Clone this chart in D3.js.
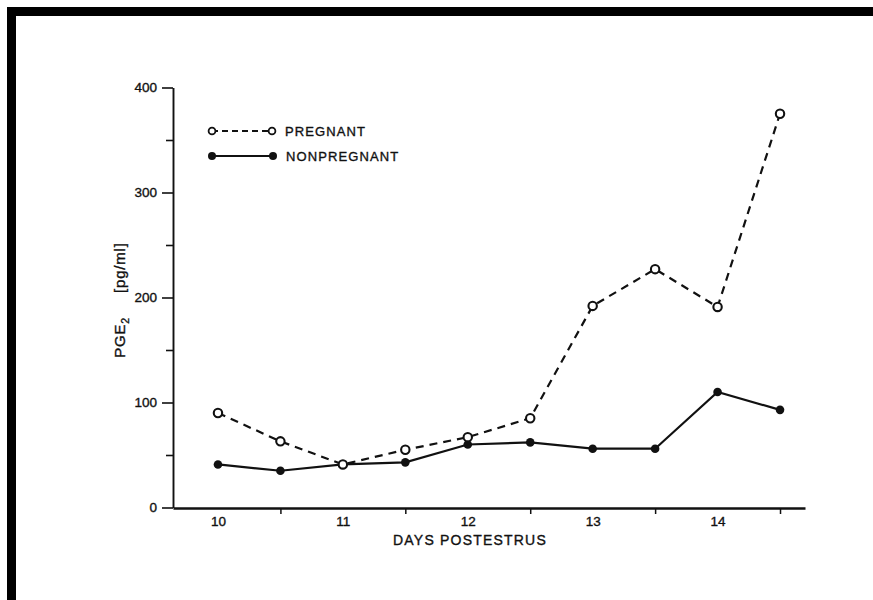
<!DOCTYPE html>
<html>
<head>
<meta charset="utf-8">
<script src="https://cdn.jsdelivr.net/npm/d3@7"></script>
<style>
  html, body { margin: 0; padding: 0; background: #fff; }
  svg { display: block; }
  text { font-family: "Liberation Sans", Arial, sans-serif; fill: #111; stroke: #111; stroke-width: 0.35px; }
</style>
</head>
<body>
<svg id="chart" width="873" height="600"></svg>
<script>
// ---- data ----
const days = [10, 10.5, 11, 11.5, 12, 12.5, 13, 13.5, 14, 14.5];
const pregnant = [90, 63, 41, 55, 67, 85, 192, 227, 191, 375];
const nonpregnant = [41, 35, 41, 43, 60, 62, 56, 56, 110, 93];
const dayLabels = [10, 11, 12, 13, 14];
const halfDayTicks = [10.5, 11.5, 12.5, 13.5, 14.5];
const yMajor = [0, 100, 200, 300, 400];
const yMinor = [50, 150, 250, 350];

const svg = d3.select("#chart");

// scanned-page black frame
svg.append("rect").attr("x", 0).attr("y", 0).attr("width", 873).attr("height", 600).attr("fill", "#fff");
svg.append("rect").attr("x", 7).attr("y", 7).attr("width", 866).attr("height", 9).attr("fill", "#000");
svg.append("rect").attr("x", 7).attr("y", 7).attr("width", 9).attr("height", 593).attr("fill", "#000");

const x = d3.scaleLinear().domain([9.64, 14.7]).range([173, 805]);
const y = d3.scaleLinear().domain([0, 400]).range([507.5, 87.5]);

// x axis: line + half-day ticks
const gx = svg.append("g").attr("transform", "translate(0,508)");
gx.call(d3.axisBottom(x).tickValues(halfDayTicks).tickSize(6).tickSizeOuter(0).tickFormat(""));
gx.select(".domain").attr("stroke", "#111").attr("stroke-width", 2.6);
gx.selectAll(".tick line").attr("stroke", "#111").attr("stroke-width", 1.5);

// x labels at whole days
const gxl = svg.append("g").attr("transform", "translate(0,508)");
gxl.call(d3.axisBottom(x).tickValues(dayLabels).tickSize(0).tickPadding(8).tickFormat(d3.format("d")));
gxl.select(".domain").remove();
gxl.selectAll("text").attr("font-size", 13.5).attr("fill", "#111")
  .style("font-family", "Liberation Sans, Arial, sans-serif");

// y axis
const gy = svg.append("g").attr("transform", "translate(173,0)");
gy.call(d3.axisLeft(y).tickValues(yMajor.concat(yMinor)).tickSize(10).tickSizeOuter(0)
  .tickFormat(d => yMajor.includes(d) ? d3.format("d")(d) : ""));
gy.select(".domain").attr("stroke", "#111").attr("stroke-width", 1.9);
gy.selectAll(".tick line").attr("stroke", "#111").attr("stroke-width", 1.6)
  .attr("x2", d => yMajor.includes(d) ? -11 : -7);
gy.selectAll(".tick text").attr("x", -16).attr("font-size", 13.5).attr("fill", "#111")
  .style("font-family", "Liberation Sans, Arial, sans-serif");

// axis titles
svg.append("text").attr("x", 470).attr("y", 545).attr("text-anchor", "middle")
  .attr("font-size", 14).attr("letter-spacing", 1.2).text("DAYS POSTESTRUS");

const yt = svg.append("text").attr("transform", "translate(125,300) rotate(-90)")
  .attr("text-anchor", "middle").attr("font-size", 15).attr("letter-spacing", 0.8);
yt.append("tspan").text("PGE");
yt.append("tspan").attr("font-size", 10.5).attr("dy", 4).text("2");
yt.append("tspan").attr("dy", -4).text("\u2003\u2002[pg/ml]");

// lines
const lineGen = vals => d3.line().x((d, i) => x(days[i])).y(d => y(d))(vals);

svg.append("path").attr("d", lineGen(nonpregnant)).attr("fill", "none")
  .attr("stroke", "#111").attr("stroke-width", 2.2);
svg.append("path").attr("d", lineGen(pregnant)).attr("fill", "none")
  .attr("stroke", "#111").attr("stroke-width", 2.2).attr("stroke-dasharray", "8,6");

svg.append("g").selectAll("circle").data(nonpregnant).join("circle")
  .attr("cx", (d, i) => x(days[i])).attr("cy", d => y(d)).attr("r", 4.3)
  .attr("fill", "#111");
svg.append("g").selectAll("circle").data(pregnant).join("circle")
  .attr("cx", (d, i) => x(days[i])).attr("cy", d => y(d)).attr("r", 4.2)
  .attr("fill", "#fff").attr("stroke", "#111").attr("stroke-width", 2.1);

// legend
const lg = svg.append("g");
lg.append("line").attr("x1", 212).attr("x2", 272).attr("y1", 131).attr("y2", 131)
  .attr("stroke", "#111").attr("stroke-width", 2).attr("stroke-dasharray", "6,4");
lg.append("circle").attr("cx", 212).attr("cy", 131).attr("r", 3.4).attr("fill", "#fff").attr("stroke", "#111").attr("stroke-width", 1.8);
lg.append("circle").attr("cx", 272).attr("cy", 131).attr("r", 3.4).attr("fill", "#fff").attr("stroke", "#111").attr("stroke-width", 1.8);
lg.append("text").attr("x", 285).attr("y", 136).attr("font-size", 13).attr("letter-spacing", 1.1).text("PREGNANT");

lg.append("line").attr("x1", 212).attr("x2", 273).attr("y1", 156).attr("y2", 156)
  .attr("stroke", "#111").attr("stroke-width", 1.8);
lg.append("circle").attr("cx", 212).attr("cy", 156).attr("r", 4).attr("fill", "#111");
lg.append("circle").attr("cx", 273).attr("cy", 156).attr("r", 4).attr("fill", "#111");
lg.append("text").attr("x", 286).attr("y", 161).attr("font-size", 13).attr("letter-spacing", 1.1).text("NONPREGNANT");
</script>
</body>
</html>
